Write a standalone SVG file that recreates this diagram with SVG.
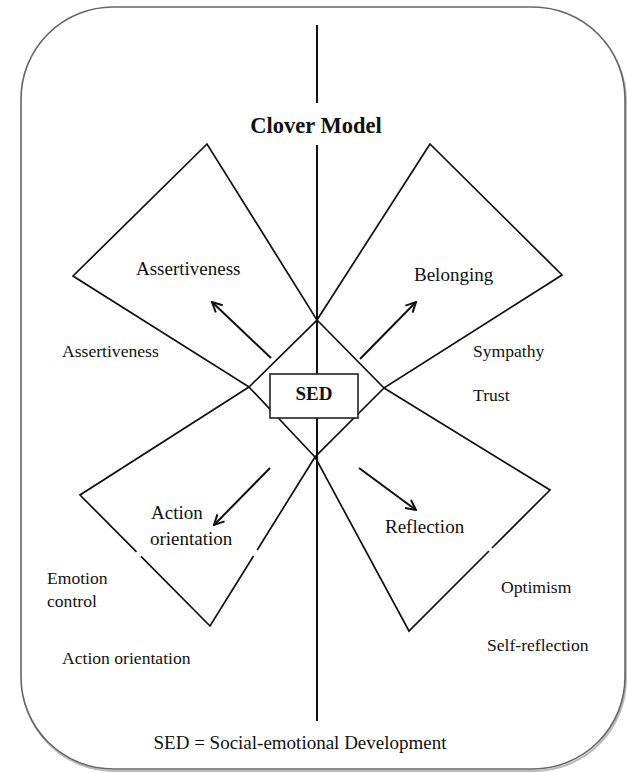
<svg xmlns="http://www.w3.org/2000/svg" width="627" height="773" viewBox="0 0 627 773">
  <defs>
    <style>
      .frame { fill: #ffffff; stroke: #666666; stroke-width: 1.6; }
      .shadow { fill: none; stroke: #bbbbbb; stroke-width: 2; }
      .kite { fill: none; stroke: #111111; stroke-width: 1.7; stroke-linejoin: miter; }
      .axis { stroke: #111111; stroke-width: 2; fill: none; }
      .arrow { stroke: #111111; stroke-width: 2; fill: none; marker-end: url(#head); }
      .box { fill: #ffffff; stroke: #222222; stroke-width: 1.6; }
      text { font-family: "Liberation Serif", "Times New Roman", serif; fill: #111111; }
      .title { font-size: 22.5px; font-weight: bold; text-anchor: middle; }
      .sed { font-size: 19px; font-weight: bold; text-anchor: middle; }
      .inner { font-size: 19px; }
      .outer { font-size: 17.6px; }
      .note { font-size: 19px; text-anchor: middle; }
    </style>
    <marker id="head" viewBox="0 0 12 12" refX="11" refY="6" markerWidth="12" markerHeight="12" markerUnits="userSpaceOnUse" orient="auto">
      <path d="M1,1 L11,6 L1,11" fill="none" stroke="#111111" stroke-width="2" stroke-linejoin="miter"/>
    </marker>
  </defs>

  <g id="frame">
    <rect class="shadow" x="22" y="9" width="604" height="762" rx="92" ry="92"/>
    <rect class="frame" x="21" y="7" width="604" height="762" rx="92" ry="92"/>
  </g>

  <g id="connectors">
    <line class="axis" x1="317" y1="25" x2="317" y2="103"/>
    <line class="axis" x1="317" y1="145" x2="317" y2="374"/>
    <line class="axis" x1="317" y1="418" x2="317" y2="721"/>
    <line class="arrow" x1="271" y1="358" x2="212" y2="302"/>
    <line class="arrow" x1="360" y1="359" x2="416" y2="302"/>
    <line class="arrow" x1="270" y1="468" x2="214" y2="525"/>
    <line class="arrow" x1="359" y1="468" x2="416" y2="510"/>
  </g>

  <g id="kite-assertiveness">
    <polygon class="kite" points="207,144 73,276 249,387 317,320"/>
    <text class="inner" x="136" y="275">Assertiveness</text>
  </g>

  <g id="kite-belonging">
    <polygon class="kite" points="430,144 317,320 384,388 562,275"/>
    <text class="inner" x="414" y="281">Belonging</text>
  </g>

  <g id="kite-action-orientation">
    <path class="kite" d="M249,387 L80,495 L136.5,551.9 M141,556.4 L210,626 L253.5,556 M257.2,550 L315,457 L249,387"/>
    <text class="inner" x="151" y="519">Action</text>
    <text class="inner" x="150" y="545">orientation</text>
  </g>

  <g id="kite-reflection">
    <path class="kite" d="M384,388 L550,490 L492,548 M489,551 L409,631 L315,457 L384,388"/>
    <text class="inner" x="385" y="533">Reflection</text>
  </g>

  <g id="sed">
    <rect class="box" x="270" y="374" width="88" height="44"/>
    <text class="sed" x="314" y="400">SED</text>
  </g>

  <g id="title">
    <text class="title" x="316" y="133">Clover Model</text>
  </g>

  <g id="outer-labels">
    <text class="outer" x="62" y="357">Assertiveness</text>
    <text class="outer" x="473" y="357">Sympathy</text>
    <text class="outer" x="473" y="401">Trust</text>
    <text class="outer" x="47" y="584">Emotion</text>
    <text class="outer" x="47" y="607">control</text>
    <text class="outer" x="62" y="664">Action orientation</text>
    <text class="outer" x="501" y="593">Optimism</text>
    <text class="outer" x="487" y="651">Self-reflection</text>
  </g>

  <g id="legend">
    <text class="note" x="300" y="749">SED = Social-emotional Development</text>
  </g>
</svg>
